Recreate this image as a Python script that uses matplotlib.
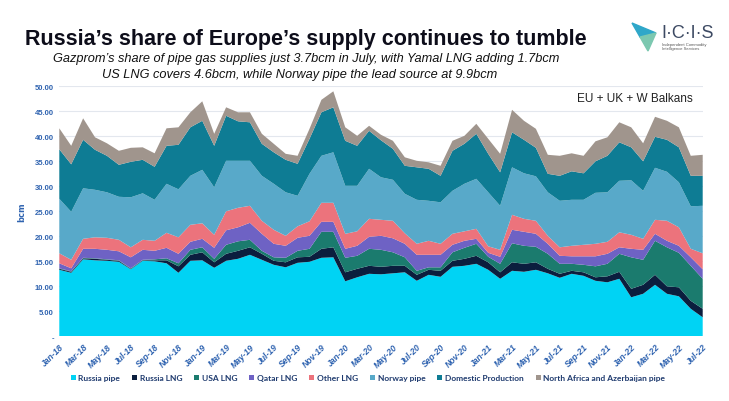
import matplotlib
matplotlib.use("Agg")
import matplotlib.pyplot as plt
import numpy as np
from matplotlib.patches import Patch, Polygon

mon = ["Jan", "Feb", "Mar", "Apr", "May", "Jun", "Jul", "Aug", "Sep", "Oct", "Nov", "Dec"]
months = [f"{m}-{y}" for y in range(18, 23) for m in mon][:55]

russia_pipe = [13.3,12.7,15.4,15.2,15.1,14.9,13.4,15.1,15.0,14.6, 12.7,15.1,15.2,13.7,15.1,15.5,16.3,15.3,14.3,13.8,
               14.7,14.9,15.7,15.8,11.0,11.8,12.5,12.4,12.6,12.8, 11.1,12.3,11.9,13.9,14.1,14.5,13.3,11.5,13.1,12.9,
               13.3,12.6,11.7,12.5,12.1,11.1,10.8,11.5,7.8,8.5, 10.3,8.5,8.0,5.5,3.8]
russia_lng = [0.2,0.2,0.2,0.3,0.2,0.2,0.1,0.1,0.2,0.6, 1.3,1.2,1.6,1.1,1.4,1.6,1.5,1.2,0.8,1.0,
              1.1,1.0,1.8,2.0,1.8,1.7,1.6,1.5,1.5,1.3, 1.2,1.0,1.2,1.2,1.4,1.6,1.5,1.3,1.7,1.6,
              1.5,0.9,0.8,0.6,0.7,0.7,1.2,1.4,1.7,1.8, 2.0,1.5,1.8,1.6,1.7]
usa_lng = [0.1,0.1,0.1,0.1,0.1,0.1,0.1,0.1,0.2,0.4, 0.6,1.0,1.0,0.7,1.8,1.9,1.5,0.6,0.7,0.9,
           1.3,1.6,3.4,3.1,2.9,2.6,3.4,3.4,2.7,1.7, 0.8,0.5,0.7,1.7,2.2,2.4,1.1,1.7,3.8,3.6,
           3.1,3.0,2.0,1.4,1.5,2.2,2.5,3.6,6.3,5.0, 6.8,7.8,6.9,7.0,6.0]
qatar_lng = [1.0,0.6,1.8,1.9,1.9,1.8,2.2,2.0,1.7,2.1, 1.9,1.6,1.7,2.2,2.9,2.8,3.4,3.4,2.7,2.4,
             2.6,2.6,2.0,2.0,1.8,2.0,2.4,2.8,2.8,2.7, 3.2,2.5,2.5,1.5,1.4,1.0,0.8,1.4,2.7,2.8,
             2.6,2.0,1.6,1.5,1.7,2.0,2.0,1.3,1.7,2.0, 1.4,1.3,1.4,1.7,1.9]
other_lng = [2.0,1.7,2.0,2.3,2.4,2.3,2.0,2.0,2.0,3.0, 3.3,3.4,3.1,2.6,3.8,3.9,3.4,2.6,2.8,2.0,
             2.3,2.9,3.8,3.8,3.0,2.9,3.6,3.2,3.5,2.1, 2.2,2.8,2.2,2.2,1.9,2.0,1.3,1.4,3.0,2.6,
             2.6,1.6,1.7,2.1,2.3,2.5,2.4,3.0,2.8,2.2, 2.8,4.0,3.7,1.7,3.2]
norway_pipe = [10.9,9.6,10.1,9.5,9.1,8.6,10.0,9.3,8.2,9.8, 9.6,9.8,10.7,9.5,10.1,9.4,9.0,9.0,9.2,8.7,
               6.1,9.5,9.4,10.1,9.6,9.1,10.0,8.5,8.2,7.9, 8.8,8.0,8.3,8.6,9.5,10.0,10.8,8.8,9.5,9.1,
               8.9,8.7,9.3,9.2,9.0,10.2,9.9,10.3,10.9,9.6, 10.4,9.8,9.0,8.5,9.5]
domestic = [9.9,9.5,9.7,8.0,7.3,6.4,7.1,6.7,6.6,7.6, 8.9,9.7,9.8,8.3,9.0,7.9,7.7,6.4,6.3,6.5,
            6.4,7.0,8.7,9.0,9.0,8.0,7.6,7.4,6.2,5.6, 6.5,6.4,5.3,8.0,8.0,9.0,7.7,6.7,7.0,6.7,
            5.7,3.7,5.0,5.7,5.3,6.3,7.3,7.7,6.6,5.9, 6.2,6.4,7.0,6.1,6.0]
na_az = [4.2,3.7,4.3,2.5,2.5,2.8,2.8,2.5,2.7,3.5, 3.5,3.0,3.9,2.4,1.7,1.8,2.0,2.0,1.7,1.2,
         1.6,2.0,2.5,3.2,2.7,2.0,1.0,1.1,1.6,1.7, 1.3,1.3,2.0,2.0,1.6,2.0,3.0,3.7,4.5,3.8,
         3.8,3.8,4.0,3.6,3.5,4.0,3.7,4.0,4.0,3.6, 4.0,3.8,4.0,4.0,4.2]

series_names = ["Russia pipe", "Russia LNG", "USA LNG", "Qatar LNG", "Other LNG",
                "Norway pipe", "Domestic Production", "North Africa and Azerbaijan pipe"]
colors = ["#00D3F4", "#0B1E3E", "#1B7B6E", "#6E62C4", "#EC737C",
          "#58A9C9", "#0E7C94", "#A0958D"]
yticks = [0, 5, 10, 15, 20, 25, 30, 35, 40, 45, 50]

W, H = 729, 402
fig = plt.figure(figsize=(W / 100, H / 100), dpi=100)
fig.patch.set_facecolor("white")

x0, x1, ytop, ybot = 59.3, 702.7, 87.3, 337.3
ax = fig.add_axes([x0 / W, 1 - ybot / H, (x1 - x0) / W, (ybot - ytop) / H])
x = np.arange(len(months))
ax.stackplot(x, russia_pipe, russia_lng, usa_lng, qatar_lng, other_lng,
             norway_pipe, domestic, na_az, colors=colors, linewidth=0, zorder=2)
ax.set_xlim(0, len(months) - 1)
ax.set_ylim(0, 50)
ax.set_yticks(yticks)
ax.set_yticklabels(["-" if v == 0 else f"{v:.2f}" for v in yticks],
                   fontsize=5.5, color="#2F63B0", fontweight="bold", family="Liberation Sans")
ax.yaxis.grid(True, color="#E3E7EE", linewidth=0.8, zorder=0)
ax.set_axisbelow(True)
ax.set_xticks(x[::2])
ax.set_xticklabels(months[::2], rotation=45, ha="right", rotation_mode="anchor",
                   fontsize=6.2, color="#2F63B0", fontweight="bold", style="italic",
                   family="Liberation Sans")
ax.tick_params(length=0, pad=4)
for s in ax.spines.values():
    s.set_visible(False)
ax.set_ylabel("bcm", fontsize=6, color="#2F63B0", fontweight="bold", labelpad=6)

ax.text(0.985, 0.955, "EU + UK + W Balkans", transform=ax.transAxes, ha="right", va="center",
        fontsize=8.5, color="#222222", family="Liberation Sans")

# Titles
fig.text(306 / W, 1 - 40 / H, "Russia\u2019s share of Europe\u2019s supply continues to tumble",
         ha="center", va="center", fontsize=15.5, fontweight="bold", color="#0D0D1A",
         family="Liberation Sans")
fig.text(306 / W, 1 - 59 / H,
         "Gazprom\u2019s share of pipe gas supplies just 3.7bcm in July, with Yamal LNG adding 1.7bcm",
         ha="center", va="center", fontsize=9.2, style="italic", color="#111111",
         family="Liberation Sans")
fig.text(300 / W, 1 - 75 / H,
         "US LNG covers 4.6bcm, while Norway pipe the lead source at 9.9bcm",
         ha="center", va="center", fontsize=9.2, style="italic", color="#111111",
         family="Liberation Sans")

# ICIS logo
fig.patches.append(Polygon([[632 / W, 1 - 24 / H], [656 / W, 1 - 34 / H], [640 / W, 1 - 38 / H]],
                           closed=True, transform=fig.transFigure, color="#2FA7C9", figure=fig))
fig.patches.append(Polygon([[640 / W, 1 - 38 / H], [656 / W, 1 - 34 / H], [648 / W, 1 - 52 / H]],
                           closed=True, transform=fig.transFigure, color="#7CC8B0", figure=fig))
fig.text(688 / W, 1 - 33 / H, "I\u00b7C\u00b7I\u00b7S", ha="center", va="center",
         fontsize=13, color="#3D4A63", family="Liberation Sans")
fig.text(662 / W, 1 - 47 / H, "Independent Commodity\nIntelligence Services", ha="left", va="center",
         fontsize=3, color="#555555", family="Liberation Sans", linespacing=1.1)

# Legend
handles = [Patch(facecolor=c, edgecolor="none") for c in colors]
fig.legend(handles, series_names, loc="center", bbox_to_anchor=(368 / W, 1 - 379 / H),
           ncol=8, frameon=False, handlelength=0.6, handleheight=0.6,
           handletextpad=0.35, columnspacing=1.4,
           prop={"family": "Lato", "weight": "bold", "size": 6},
           labelcolor="#1E3A6E")

fig.savefig("out.png", dpi=100, facecolor="white")
